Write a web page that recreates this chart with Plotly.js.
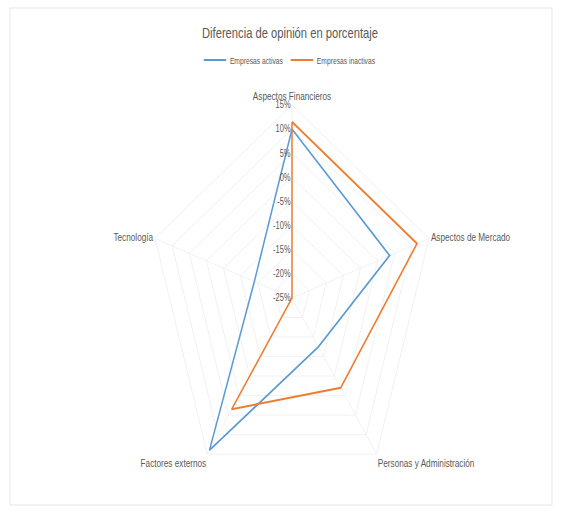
<!DOCTYPE html>
<html>
<head>
<meta charset="utf-8">
<script src="https://cdn.plot.ly/plotly-3.0.1.min.js"></script>
<style>
  html, body { margin: 0; padding: 0; background: #ffffff; overflow: hidden; }
  #wrap { width: 562px; height: 514px; overflow: hidden; position: relative; }
  #chart { width: 753px; height: 514px; transform: scaleX(0.7463); transform-origin: 0 0; }
</style>
</head>
<body>
<div id="wrap"><div id="chart"></div></div>
<script>
// Data (percent)
const categories = ["Aspectos Financieros", "Aspectos de Mercado", "Personas y Administración", "Factores externos", "Tecnología"];
const seriesNames = ["Empresas activas", "Empresas inactivas"];
const activas = [10, 3.5, -12.5, 14, -14];
const inactivas = [11.5, 11.5, -2, 3.5, -25];
const tickVals = [-25, -20, -15, -10, -5, 0, 5, 10, 15];
const tickLabels = ["-25%", "-20%", "-15%", "-10%", "-5%", "0%", "5%", "10%", "15%"];

const colors = ["#5B9BD5", "#ED7D31"];
function closed(a) { return a.concat([a[0]]); }

const traces = [activas, inactivas].map((vals, i) => ({
  type: "scatterpolar",
  mode: "lines",
  name: seriesNames[i],
  r: closed(vals),
  theta: closed(categories),
  line: { color: colors[i], width: 2 },
  hoverinfo: "skip"
}));

const W = 753, H = 514;
const cxVis = 292, cy = 298, R = 193, sx = 0.7463;
const cx = cxVis / sx;

const layout = {
  width: W, height: H,
  margin: { l: 0, r: 0, t: 0, b: 0 },
  paper_bgcolor: "#ffffff",
  font: { family: "Liberation Sans, Arial, sans-serif", color: "#595959" },
  title: {
    text: "Diferencia de opinión en porcentaje",
    font: { size: 15, color: "#595959" },
    x: 290 / 562, xanchor: "center", xref: "paper",
    y: 1 - 33 / 514, yanchor: "middle", yref: "paper"
  },
  showlegend: true,
  legend: {
    orientation: "h",
    x: 290 / 562, xanchor: "center",
    y: 1 - 60 / 514, yanchor: "middle",
    font: { size: 9, color: "#595959" },
    itemwidth: 30
  },
  polar: {
    domain: {
      x: [(cx - R) / W, (cx + R) / W],
      y: [(H - cy - R) / H, (H - cy + R) / H]
    },
    gridshape: "linear",
    bgcolor: "#ffffff",
    angularaxis: {
      direction: "clockwise",
      rotation: 90,
      showline: true,
      linecolor: "#efefef",
      linewidth: 1,
      showgrid: true,
      gridcolor: "#f0f0f0",
      ticks: "",
      tickfont: { size: 11, color: "#595959" }
    },
    radialaxis: {
      range: [-25, 15],
      angle: 90,
      side: "counterclockwise",
      tickvals: tickVals,
      ticktext: tickLabels,
      tickangle: 90,
      showline: false,
      showgrid: true,
      gridcolor: "#efefef",
      ticks: "",
      tickfont: { size: 10, color: "#595959" }
    }
  },
  shapes: [{
    type: "rect", xref: "paper", yref: "paper",
    x0: 10 / 562, x1: 552 / 562, y0: 1 - 505 / 514, y1: 1 - 8 / 514,
    line: { color: "#e3e3e3", width: 1 }, fillcolor: "rgba(0,0,0,0)", layer: "below"
  }]
};

Plotly.newPlot("chart", traces, layout, { displayModeBar: false, staticPlot: true });
</script>
</body>
</html>
